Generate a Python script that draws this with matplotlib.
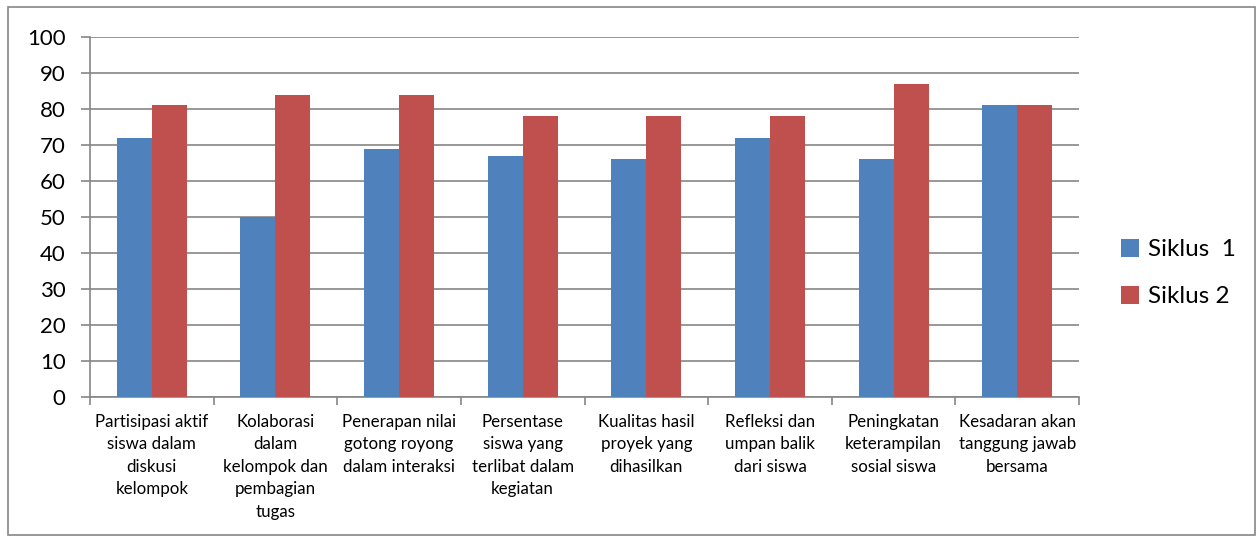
import numpy as np
import matplotlib.pyplot as plt
from matplotlib.patches import Rectangle

# --- DATA ---
categories = [
    "Partisipasi aktif\nsiswa dalam\ndiskusi\nkelompok",
    "Kolaborasi\ndalam\nkelompok dan\npembagian\ntugas",
    "Penerapan nilai\ngotong royong\ndalam interaksi",
    "Persentase\nsiswa yang\nterlibat dalam\nkegiatan",
    "Kualitas hasil\nproyek yang\ndihasilkan",
    "Refleksi dan\numpan balik\ndari siswa",
    "Peningkatan\nketerampilan\nsosial siswa",
    "Kesadaran akan\ntanggung jawab\nbersama",
]
siklus1 = [72, 50, 69, 67, 66, 72, 66, 81]
siklus2 = [81, 84, 84, 78, 78, 78, 87, 81]
series_names = ["Siklus  1", "Siklus 2"]
yticks = list(range(0, 101, 10))

# --- STYLE ---
plt.rcParams['font.family'] = ['Lato', 'DejaVu Sans']
BLUE = "#4F81BD"
RED = "#C0504D"
GRID = "#868686"

fig = plt.figure(figsize=(12.58, 5.36), dpi=100)
ax = fig.add_axes([90 / 1258, 1 - 397 / 536, (1079 - 90) / 1258, (397 - 37) / 536])

x = np.arange(len(categories))
w = 0.283
b1 = ax.bar(x - w / 2, siklus1, w, color=BLUE, label=series_names[0], zorder=3)
b2 = ax.bar(x + w / 2, siklus2, w, color=RED, label=series_names[1], zorder=3)

ax.set_xlim(-0.5, len(categories) - 0.5)
ax.set_ylim(0, 100)
ax.set_yticks(yticks)
ax.set_yticklabels([str(t) for t in yticks], fontsize=16)
ax.yaxis.grid(True, color=GRID, linewidth=1.2, zorder=0)

# category labels centred, ticks between categories
ax.set_xticks(x)
ax.set_xticklabels(categories, fontsize=12.2, linespacing=1.5, va='top')
ax.tick_params(axis='x', length=0, pad=12)
ax.set_xticks(np.arange(-0.5, len(categories)), minor=True)
ax.tick_params(axis='x', which='minor', length=6, width=1.2, color=GRID)
ax.tick_params(axis='y', length=6.5, width=1.2, color=GRID, pad=11)

for side in ['top', 'right']:
    ax.spines[side].set_visible(False)
for side in ['left', 'bottom']:
    ax.spines[side].set_color(GRID)
    ax.spines[side].set_linewidth(1.2)

fig.legend(handles=[b1, b2], loc='center left', bbox_to_anchor=(1099 / 1258, 1 - 273 / 536),
           frameon=False, fontsize=17.5, handlelength=0.75, handleheight=0.75,
           handletextpad=0.35, labelspacing=1.05)

# outer chart border
fig.patches.append(Rectangle((8 / 1258, 1 / 536), (1255 - 8) / 1258, (529 - 1) / 536,
                             transform=fig.transFigure, fill=False, edgecolor=GRID, linewidth=1.2))

fig.savefig("out.png", dpi=100)
